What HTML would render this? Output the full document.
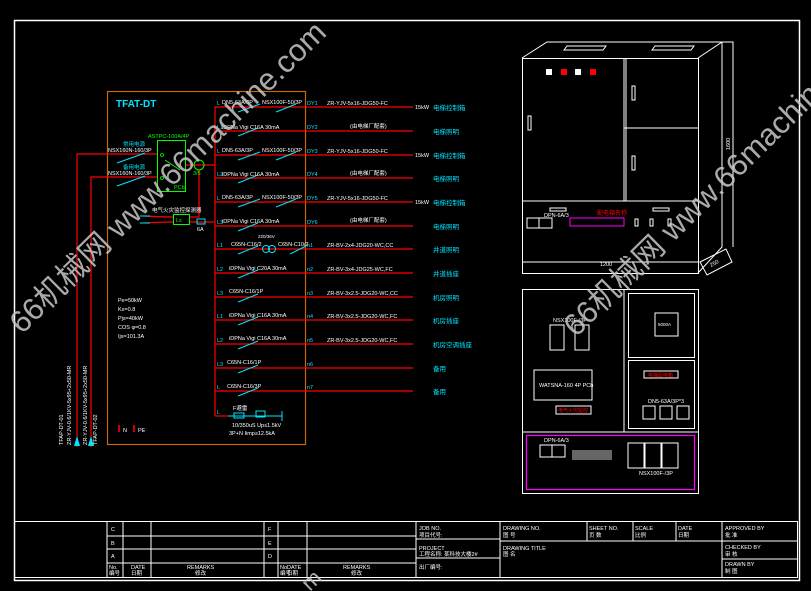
<!DOCTYPE html>
<html><head><meta charset="utf-8"><style>
html,body{margin:0;padding:0;background:#000;}
svg{display:block}
text{font-family:"Liberation Sans","Noto Sans CJK SC",sans-serif;}
</style></head><body>
<svg width="811" height="591" viewBox="0 0 811 591" xmlns="http://www.w3.org/2000/svg">
<rect width="811" height="591" fill="#000"/>
<!-- outer border -->
<rect x="14.5" y="20.5" width="785" height="560" fill="none" stroke="#fff" stroke-width="1.5"/>
<!-- title block -->
<g stroke="#fff" stroke-width="1" fill="none">
<rect x="14.5" y="521.5" width="783" height="56"/>
<line x1="107" y1="521" x2="107" y2="578"/><line x1="123" y1="521" x2="123" y2="578"/><line x1="151" y1="521" x2="151" y2="578"/>
<line x1="264" y1="521" x2="264" y2="578"/><line x1="278" y1="521" x2="278" y2="578"/><line x1="307" y1="521" x2="307" y2="578"/>
<line x1="416" y1="521" x2="416" y2="578"/><line x1="500" y1="521" x2="500" y2="578"/>
<line x1="587" y1="521" x2="587" y2="541"/><line x1="633" y1="521" x2="633" y2="541"/><line x1="676" y1="521" x2="676" y2="541"/>
<line x1="722" y1="521" x2="722" y2="578"/>
<line x1="107" y1="536" x2="416" y2="536"/><line x1="107" y1="549" x2="416" y2="549"/><line x1="107" y1="563" x2="416" y2="563"/>
<line x1="416" y1="539" x2="500" y2="539"/><line x1="416" y1="558" x2="500" y2="558"/>
<line x1="500" y1="541" x2="722" y2="541"/>
<line x1="722" y1="541" x2="798" y2="541"/><line x1="722" y1="559" x2="798" y2="559"/>
</g>
<g fill="#fff" font-size="5.5">
<text x="111" y="531">C</text><text x="111" y="545">B</text><text x="111" y="558">A</text>
<text x="268" y="531">F</text><text x="268" y="545">E</text><text x="268" y="558">D</text>
<text x="109" y="569">No.</text><text x="109" y="575">编号</text><text x="131" y="569">DATE</text><text x="131" y="575">日期</text>
<text x="187" y="569">REMARKS</text><text x="195" y="575">修改</text>
<text x="280" y="569">No.</text><text x="280" y="575">编号</text><text x="287" y="569">DATE</text><text x="287" y="575">日期</text>
<text x="343" y="569">REMARKS</text><text x="351" y="575">修改</text>
<text x="419" y="530">JOB NO.</text><text x="419" y="537">项目代号:</text>
<text x="419" y="550">PROJECT</text><text x="419" y="556">工程名称: 某科技大楼2#</text>
<text x="419" y="569">出厂编号:</text>
<text x="503" y="530">DRAWING NO.</text><text x="503" y="537">图 号</text>
<text x="503" y="550">DRAWING TITLE</text><text x="503" y="556">图 名</text>
<text x="589" y="530">SHEET NO.</text><text x="589" y="537">页 数</text>
<text x="635" y="530">SCALE</text><text x="635" y="537">比例</text>
<text x="678" y="530">DATE</text><text x="678" y="537">日期</text>
<text x="725" y="530">APPROVED BY</text><text x="725" y="537">批 准</text>
<text x="725" y="549">CHECKED BY</text><text x="725" y="556">审 核</text>
<text x="725" y="566">DRAWN BY</text><text x="725" y="573">制 图</text>
</g>

<!-- schematic box -->
<rect x="107.5" y="91.5" width="198" height="353" fill="none" stroke="#c8660a" stroke-width="1.2"/>
<text x="116" y="107" fill="#00e5ff" font-size="10" font-weight="bold">TFAT-DT</text>

<!-- incoming -->
<g stroke="#ff0000" stroke-width="1.2" fill="none">
<polyline points="77,447 77,154 157,154"/>
<polyline points="91,447 91,177 157,177"/>
<line x1="186" y1="165" x2="215" y2="165"/>
<polyline points="199,170 199,217 189,217"/>
<path d="M173,217 Q160,217 145,216 M173,222 Q160,222 145,223"/>
<line x1="189" y1="222" x2="215" y2="222"/>
<line x1="215" y1="107" x2="215" y2="416"/>
</g>
<polygon points="77,436 74,446 80,446" fill="#00e5ff"/><polygon points="91,436 88,446 94,446" fill="#00e5ff"/>
<g stroke="#00e5ff" stroke-width="1" fill="none">
<line x1="117" y1="163" x2="145" y2="153"/><line x1="117" y1="186" x2="145" y2="176"/>
<line x1="140" y1="216" x2="150" y2="216"/><line x1="140" y1="223" x2="150" y2="223"/>
<rect x="197" y="219" width="8" height="5"/>
</g>
<rect x="157.5" y="140.5" width="28" height="51" fill="none" stroke="#00ff00" stroke-width="1"/>
<rect x="173.5" y="214.5" width="16" height="10" fill="none" stroke="#00ff00" stroke-width="1"/>
<circle cx="199" cy="165" r="5" fill="none" stroke="#00ff00"/>
<g stroke="#00ff00" fill="none" stroke-width="0.8"><circle cx="162" cy="155" r="1.5"/><circle cx="162" cy="178" r="1.5"/><line x1="165" y1="160" x2="180" y2="170"/></g>
<g font-size="5.5">
<text x="148" y="138" fill="#00ff00">ASTPC-100A/4P</text>
<text x="174" y="189" fill="#00ff00">PCb</text>
<text x="176" y="222" fill="#00ff00">Ls</text>
<text x="123" y="146" fill="#00e5ff">常用电源</text><text x="108" y="152" fill="#fff">NSX160N-160/3P</text>
<text x="123" y="169" fill="#00e5ff">备用电源</text><text x="108" y="175" fill="#fff">NSX160N-160/3P</text>
<text x="152" y="212" fill="#fff">电气火灾监控探测器</text>
<text x="197" y="231" fill="#fff">6A</text>
<text x="193" y="175" fill="#00ff00">3/5</text>
</g>
<g fill="#fff" font-size="5.5">
<text x="118" y="302">Pe=50kW</text><text x="118" y="311">Kx=0.8</text><text x="118" y="320">Pjs=40kW</text><text x="118" y="329">COS φ=0.8</text><text x="118" y="338">Ijs=101.3A</text>
</g>
<g fill="#fff" font-size="5.5">
<text transform="translate(63,445) rotate(-90)">TFAP-DT-01</text>
<text transform="translate(71,445) rotate(-90)">ZR-YJV-0.6/1KV-5x95+2x50-MR</text>
<text transform="translate(87,445) rotate(-90)">ZR-YJV-0.6/1KV-5x95+2x50-MR</text>
<text transform="translate(97,445) rotate(-90)">TFAP-DT-02</text>
</g>
<rect x="118" y="425" width="2" height="7" fill="#c00"/><text x="123" y="432" fill="#fff" font-size="5.5">N</text>
<rect x="133" y="425" width="2" height="7" fill="#c00"/><text x="138" y="432" fill="#fff" font-size="5.5">PE</text>

<!-- feeder rows -->
<g stroke="#ff0000" stroke-width="1.2">
<line x1="215" y1="107" x2="413" y2="107"/><line x1="215" y1="131" x2="413" y2="131"/>
<line x1="215" y1="155" x2="413" y2="155"/><line x1="215" y1="178" x2="413" y2="178"/>
<line x1="215" y1="202" x2="413" y2="202"/><line x1="215" y1="226" x2="413" y2="226"/>
<line x1="215" y1="249" x2="413" y2="249"/><line x1="215" y1="273" x2="413" y2="273"/>
<line x1="215" y1="297" x2="413" y2="297"/><line x1="215" y1="320" x2="413" y2="320"/>
<line x1="215" y1="344" x2="413" y2="344"/><line x1="215" y1="368" x2="413" y2="368"/>
<line x1="215" y1="391" x2="413" y2="391"/>
<line x1="215" y1="416" x2="228" y2="416"/>
</g>
<g stroke="#00e5ff" stroke-width="1">
<line x1="238" y1="112" x2="260" y2="104"/><line x1="276" y1="112" x2="296" y2="104"/>
<line x1="238" y1="136" x2="258" y2="128"/>
<line x1="238" y1="160" x2="260" y2="152"/><line x1="276" y1="160" x2="296" y2="152"/>
<line x1="238" y1="183" x2="258" y2="175"/>
<line x1="238" y1="207" x2="260" y2="199"/><line x1="276" y1="207" x2="296" y2="199"/>
<line x1="238" y1="231" x2="258" y2="223"/>
<line x1="238" y1="254" x2="258" y2="246"/><line x1="290" y1="254" x2="306" y2="246"/>
<line x1="238" y1="278" x2="258" y2="270"/>
<line x1="238" y1="302" x2="258" y2="294"/>
<line x1="238" y1="325" x2="258" y2="317"/>
<line x1="238" y1="349" x2="258" y2="341"/>
<line x1="238" y1="373" x2="258" y2="365"/>
<line x1="238" y1="396" x2="258" y2="388"/>
<line x1="228" y1="416" x2="282" y2="416"/>
<rect x="234" y="413" width="10" height="5" fill="none"/><rect x="256" y="411" width="9" height="6" fill="none"/>
<line x1="282" y1="411" x2="282" y2="421"/>
<circle cx="266" cy="249" r="3.5" fill="none"/><circle cx="272" cy="249" r="3.5" fill="none"/>
</g>
<g font-size="5.5" fill="#fff">
<text x="217" y="105" fill="#00e5ff">L</text><text x="222" y="104">DN5-63A/3P</text><text x="262" y="104">NSX100F-50/3P</text>
<text x="217" y="129" fill="#00e5ff">L1</text><text x="222" y="129">iDPNa Vigi C16A 30mA</text>
<text x="217" y="153" fill="#00e5ff">L</text><text x="222" y="152">DN5-63A/3P</text><text x="262" y="152">NSX100F-50/3P</text>
<text x="217" y="176" fill="#00e5ff">L2</text><text x="222" y="176">iDPNa Vigi C16A 30mA</text>
<text x="217" y="200" fill="#00e5ff">L</text><text x="222" y="199">DN5-63A/3P</text><text x="262" y="199">NSX100F-50/3P</text>
<text x="217" y="224" fill="#00e5ff">L3</text><text x="222" y="223">iDPNa Vigi C16A 30mA</text>
<text x="217" y="247" fill="#00e5ff">L1</text><text x="231" y="246">C65N-C16/2</text><text x="278" y="246">C65N-C10/2</text><text x="258" y="238" font-size="4.5">220/36V</text>
<text x="217" y="271" fill="#00e5ff">L2</text><text x="229" y="270">iDPNa Vigi C20A 30mA</text>
<text x="217" y="295" fill="#00e5ff">L3</text><text x="229" y="293">C65N-C16/1P</text>
<text x="217" y="318" fill="#00e5ff">L1</text><text x="229" y="317">iDPNa Vigi C16A 30mA</text>
<text x="217" y="342" fill="#00e5ff">L2</text><text x="229" y="340">iDPNa Vigi C16A 30mA</text>
<text x="217" y="366" fill="#00e5ff">L3</text><text x="227" y="364">C65N-C16/1P</text>
<text x="217" y="389" fill="#00e5ff">L</text><text x="227" y="388">C65N-C16/3P</text>
<text x="217" y="414" fill="#00e5ff">L</text><text x="233" y="410">F避雷</text>
<text x="232" y="427">10/350uS Up≤1.5kV</text><text x="229" y="435">3P+N Iimp≥12.5kA</text>
</g>
<g font-size="5.5" fill="#00e5ff">
<text x="307" y="105">DY1</text><text x="307" y="129">DY2</text><text x="307" y="153">DY3</text><text x="307" y="176">DY4</text>
<text x="307" y="200">DY5</text><text x="307" y="224">DY6</text><text x="307" y="247">n1</text><text x="307" y="271">n2</text>
<text x="307" y="295">n3</text><text x="307" y="318">n4</text><text x="307" y="342">n5</text><text x="307" y="366">n6</text><text x="307" y="389">n7</text>
</g>
<g font-size="5.5" fill="#fff">
<text x="327" y="105">ZR-YJV-5x16-JDG50-FC</text><text x="350" y="128">(由电梯厂配套)</text>
<text x="327" y="153">ZR-YJV-5x16-JDG50-FC</text><text x="350" y="175">(由电梯厂配套)</text>
<text x="327" y="200">ZR-YJV-5x16-JDG50-FC</text><text x="350" y="222">(由电梯厂配套)</text>
<text x="327" y="247">ZR-BV-2x4-JDG20-WC,CC</text><text x="327" y="271">ZR-BV-3x4-JDG25-WC,FC</text>
<text x="327" y="295">ZR-BV-3x2.5-JDG20-WC,CC</text><text x="327" y="318">ZR-BV-3x2.5-JDG20-WC,FC</text>
<text x="327" y="342">ZR-BV-3x2.5-JDG20-WC,FC</text>
<text x="415" y="109">15kW</text><text x="415" y="157">15kW</text><text x="415" y="204">15kW</text>
</g>
<g font-size="6.5" fill="#00e5ff">
<text x="433" y="110">电梯控制箱</text><text x="433" y="134">电梯照明</text><text x="433" y="158">电梯控制箱</text>
<text x="433" y="181">电梯照明</text><text x="433" y="205">电梯控制箱</text><text x="433" y="229">电梯照明</text>
<text x="433" y="252">井道照明</text><text x="433" y="276">井道插座</text><text x="433" y="300">机房照明</text>
<text x="433" y="323">机房插座</text><text x="433" y="347">机房空调插座</text><text x="433" y="371">备用</text><text x="433" y="394">备用</text>
</g>

<!-- cabinet elevation -->
<g stroke="#fff" stroke-width="1" fill="none">
<rect x="522.5" y="58.5" width="176" height="215"/>
<polyline points="522,58 547,42 722,42 698,58"/>
<polyline points="722,42 722,247 698,273"/>
<polyline points="722,42 733,42 733,247"/>
<line x1="698" y1="262" x2="522" y2="262"/>
<line x1="624" y1="58" x2="624" y2="201"/><line x1="626" y1="58" x2="626" y2="201"/>
<line x1="624" y1="128" x2="698" y2="128"/>
<line x1="522" y1="201" x2="698" y2="201"/>
<polygon points="564,50 567,46 606,46 603,50"/><polygon points="652,50 655,46 694,46 691,50"/>
<polygon points="700,262 726,249 732,262 707,275"/>
<rect x="527" y="218" width="12" height="10"/><rect x="539" y="218" width="13" height="10"/>
<rect x="550" y="208" width="16" height="3"/><rect x="653" y="208" width="16" height="3"/>
<rect x="528" y="116" width="3" height="14"/><rect x="632" y="86" width="3" height="14"/><rect x="632" y="156" width="3" height="14"/>
<rect x="635" y="219" width="3" height="7"/><rect x="650" y="219" width="3" height="7"/><rect x="668" y="219" width="3" height="7"/>
<rect x="522.5" y="289.5" width="176" height="204"/>
<line x1="624" y1="289" x2="624" y2="432"/><line x1="522" y1="432" x2="698" y2="432"/>
<rect x="628.5" y="293.5" width="66" height="64"/><rect x="628.5" y="360.5" width="66" height="68"/>
<rect x="655" y="313" width="23" height="23"/>
<rect x="534" y="370" width="58" height="30"/>
<rect x="550" y="325" width="14" height="25"/><rect x="575" y="325" width="14" height="25"/>
<rect x="643" y="406" width="12" height="13"/><rect x="660" y="406" width="12" height="13"/><rect x="677" y="406" width="12" height="13"/>
<rect x="540" y="445" width="12" height="12"/><rect x="552" y="445" width="13" height="12"/>
<rect x="628" y="443" width="16" height="25"/><rect x="645" y="443" width="16" height="25"/><rect x="662" y="443" width="16" height="25"/>
</g>
<rect x="570" y="218" width="54" height="8" fill="none" stroke="#ff00ff"/>
<rect x="526.5" y="435.5" width="168" height="54" fill="none" stroke="#ff00ff" stroke-width="1.2"/>
<rect x="572" y="450" width="40" height="10" fill="#aaa" opacity="0.6"/>
<g fill="#fff"><rect x="546" y="69" width="6" height="6"/><rect x="575" y="69" width="6" height="6"/></g>
<g fill="#f00"><rect x="561" y="69" width="6" height="6"/><rect x="590" y="69" width="6" height="6"/></g>
<g font-size="5.5" fill="#fff">
<text x="600" y="266">1200</text>
<text transform="translate(730,150) rotate(-90)">1600</text>
<text transform="translate(711,267) rotate(-28)">250</text>
<text x="544" y="217">DPN-6A/3</text><text x="544" y="442">DPN-6A/3</text>
<text x="553" y="322">NSX100F-/3P</text><text x="639" y="475">NSX100F-/3P</text>
<text x="539" y="387">WATSNA-160 4P PCb</text>
<text x="648" y="403">DN5-63A/3P*3</text>
<text x="658" y="326" font-size="4.5">5000A</text>
</g>
<text x="597" y="215" fill="#f00" font-size="6">配电箱名称</text>
<rect x="556" y="406" width="35" height="8" fill="none" stroke="#fff"/><text x="558" y="412" fill="#f00" font-size="5">电气火灾监控</text>
<rect x="644" y="371" width="34" height="7" fill="none" stroke="#fff"/><text x="648" y="377" fill="#f00" font-size="5">电梯配电箱</text>

<!-- watermarks -->
<g fill="#c8c8c8" fill-opacity="0.85" font-size="31">
<text transform="translate(22,335) rotate(-44.5)">66机械网 www.66machine.com</text>
<text transform="translate(576,338) rotate(-44.5)">66机械网 www.66machine.com</text>
<text transform="translate(310,592) rotate(-44.5)" font-size="22">m</text>
</g>
</svg>
</body></html>
